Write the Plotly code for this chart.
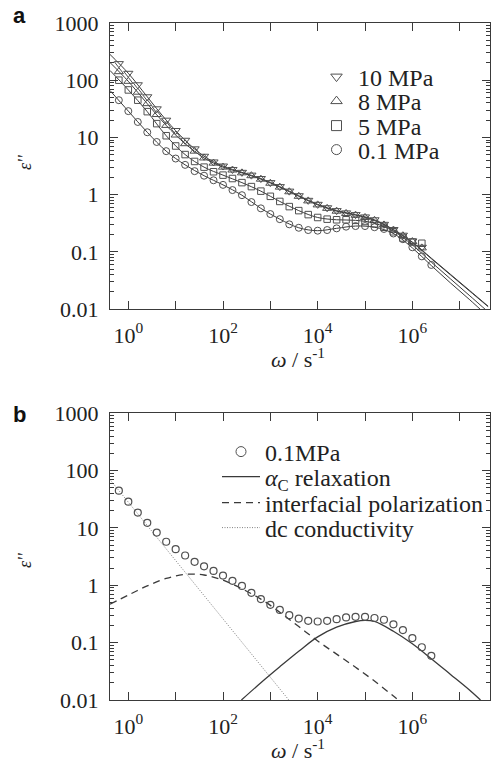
import plotly.graph_objects as go

# ---------------- data ----------------
# measured angular frequencies (s^-1)
omega = [0.631, 1, 1.585, 2.512, 3.981, 6.31, 10, 15.85, 25.12, 39.81, 63.1, 100,
         158.5, 251.2, 398.1, 631, 1000, 1585, 2512, 3981, 6310, 1e4, 15850, 25120,
         39810, 63100, 1e5, 158500, 251200, 398100, 631000, 1e6, 1585000, 2512000]

eps_10MPa = [195, 132, 83.2, 51.3, 31.6, 20.0, 13.2, 8.91, 6.31, 4.68, 3.72, 3.16,
             2.75, 2.45, 2.19, 1.91, 1.62, 1.38, 1.15, 0.955, 0.794, 0.676, 0.589,
             0.525, 0.479, 0.447, 0.407, 0.363, 0.302, 0.245, 0.195, 0.155, 0.120]
eps_8MPa = [141, 95.5, 61.7, 38.9, 25.1, 16.2, 11.0, 7.76, 5.75, 4.37, 3.55, 3.02,
            2.69, 2.40, 2.14, 1.86, 1.58, 1.35, 1.12, 0.933, 0.776, 0.661, 0.575,
            0.513, 0.468, 0.437, 0.398, 0.355, 0.295, 0.240, 0.191, 0.151, 0.117]
eps_5MPa = [100, 67.6, 44.7, 28.2, 17.4, 10.7, 7.08, 5.01, 3.80, 3.02, 2.51, 2.19,
            1.91, 1.62, 1.38, 1.15, 0.933, 0.759, 0.617, 0.525, 0.447, 0.398, 0.372,
            0.363, 0.363, 0.355, 0.339, 0.309, 0.269, 0.224, 0.174, 0.148, 0.141]
eps_01MPa = [44.7, 28.8, 18.6, 12.3, 8.32, 5.75, 4.27, 3.31, 2.57, 2.14, 1.78, 1.48,
             1.20, 0.977, 0.741, 0.575, 0.457, 0.372, 0.302, 0.263, 0.240, 0.234,
             0.240, 0.257, 0.275, 0.282, 0.282, 0.269, 0.251, 0.209, 0.166, 0.120,
             0.0832, 0.0589]

# fitted curves (panel a)
omega_fit = [0.41, 1, 2.51, 6.31, 15.85, 39.8, 100, 251, 631, 1585, 3981, 1e4, 2.51e4,
             6.31e4, 1.585e5, 3.98e5, 1e6, 2.51e6, 6.31e6, 1.585e7, 3.98e7]
fit_10MPa = [282, 132, 51.3, 20.0, 8.91, 4.68, 3.16, 2.45, 1.91, 1.38, 0.955, 0.676,
             0.525, 0.447, 0.363, 0.245, 0.148, 0.0776, 0.0407, 0.0214, 0.0112]
fit_8MPa = [204, 95.5, 38.9, 16.2, 7.76, 4.37, 3.02, 2.40, 1.86, 1.35, 0.933, 0.661,
            0.513, 0.437, 0.355, 0.240, 0.145, 0.0759, 0.0398, 0.0209, 0.0110]
fit_5MPa = [148, 67.6, 28.2, 10.7, 5.01, 3.02, 2.19, 1.62, 1.15, 0.759, 0.525, 0.398,
            0.363, 0.355, 0.316, 0.229, 0.132, 0.0661, 0.0339, 0.0174, 0.00891]
fit_01MPa = [66.1, 28.8, 12.3, 5.75, 3.31, 2.14, 1.48, 0.977, 0.575, 0.372, 0.263,
             0.234, 0.257, 0.282, 0.269, 0.209, 0.117, 0.0575, 0.0288, 0.0148, 0.00741]

# components (panel b)
omega_dc = [0.41, 1, 10, 100, 1000, 2455]
eps_dc = [69.8, 28.2, 2.70, 0.259, 0.0249, 0.01]
omega_ip = [0.41, 1, 2.51, 6.31, 15.85, 39.8, 100, 251, 631, 1585, 3981, 1e4, 2.51e4,
            6.31e4, 1.585e5, 3.98e5, 5.0e5]
eps_ip = [0.468, 0.676, 0.977, 1.318, 1.549, 1.514, 1.230, 0.871, 0.575, 0.339, 0.191,
          0.107, 0.0631, 0.0372, 0.0214, 0.0117, 0.010]
omega_ac = [245, 631, 1585, 3981, 1e4, 2.51e4, 6.31e4, 1e5, 1.585e5, 3.98e5, 1e6,
            2.51e6, 6.31e6, 1.585e7, 2.75e7]
eps_ac = [0.01, 0.0200, 0.0380, 0.0708, 0.126, 0.186, 0.234, 0.245, 0.234, 0.158,
          0.0955, 0.0525, 0.0282, 0.0151, 0.010]

x_tickvals = [1, 100, 1e4, 1e6]
x_ticktext = ['10<sup>0</sup>', '10<sup>2</sup>', '10<sup>4</sup>', '10<sup>6</sup>']
x_unlabeled_ticks = [10, 1e3, 1e5, 1e7]
y_tickvals = [0.01, 0.1, 1, 10, 100, 1000]
y_ticktext = ['0.01', '0.1', '1', '10', '100', '1000']

# ---------------- figure ----------------
W, H = 492, 761
ML, MR, MT, MB = 110, 2, 23, 61
PW, PH = W - ML - MR, H - MT - MB
DARK = '#3a3a3a'
MK = '#505050'
SERIF = 'Liberation Serif'


def px2paper(xp, yp):
    return (xp - ML) / PW, (H - MB - yp) / PH


fig = go.Figure()

series_a = [
    ('10 MPa', 'triangle-down-open', eps_10MPa, fit_10MPa, 8),
    ('8 MPa', 'triangle-up-open', eps_8MPa, fit_8MPa, 8),
    ('5 MPa', 'square-open', eps_5MPa, fit_5MPa, 6.5),
    ('0.1 MPa', 'circle-open', eps_01MPa, fit_01MPa, 7),
]
leg_rows_a = [77, 101.5, 126, 150]
for i, (name, sym, eps, fit, ms) in enumerate(series_a):
    fig.add_trace(go.Scatter(x=omega_fit, y=fit, mode='lines',
                             line=dict(color=DARK, width=1, shape='spline'),
                             showlegend=False, xaxis='x', yaxis='y', hoverinfo='skip'))
    fig.add_trace(go.Scatter(x=omega[:len(eps)], y=eps, mode='markers',
                             marker=dict(symbol=sym, size=ms, color=MK,
                                         line=dict(width=1, color=MK)),
                             showlegend=False, xaxis='x', yaxis='y'))
    lg = 'legend' if i == 0 else f'legend{i + 1}'
    fig.add_trace(go.Scatter(x=[None], y=[None], mode='markers', name=name,
                             marker=dict(symbol=sym, size=10, color=MK,
                                         line=dict(width=1, color=MK)),
                             showlegend=True, legend=lg, xaxis='x', yaxis='y'))

# panel b
fig.add_trace(go.Scatter(x=omega_dc, y=eps_dc, mode='lines',
                         line=dict(color='#808080', width=1, dash='1px,1.5px'),
                         showlegend=False, xaxis='x2', yaxis='y2'))
fig.add_trace(go.Scatter(x=omega_ip, y=eps_ip, mode='lines',
                         line=dict(color=DARK, width=1.3, dash='7px,5px', shape='spline'),
                         showlegend=False, xaxis='x2', yaxis='y2'))
fig.add_trace(go.Scatter(x=omega_ac, y=eps_ac, mode='lines',
                         line=dict(color=DARK, width=1.3, shape='spline'),
                         showlegend=False, xaxis='x2', yaxis='y2'))
fig.add_trace(go.Scatter(x=omega, y=eps_01MPa, mode='markers',
                         marker=dict(symbol='circle-open', size=7, color=MK,
                                     line=dict(width=1.2, color=MK)),
                         showlegend=False, xaxis='x2', yaxis='y2'))

legend_b = [
    ('0.1MPa', dict(mode='markers', marker=dict(symbol='circle-open', size=10, color=MK,
                                                line=dict(width=1, color=MK)))),
    ('<i>α</i><sub>C</sub> relaxation', dict(mode='lines', line=dict(color=DARK, width=1.3))),
    ('interfacial polarization', dict(mode='lines', line=dict(color=DARK, width=1.3,
                                                              dash='7px,5px'))),
    ('dc conductivity', dict(mode='lines', line=dict(color='#808080', width=1,
                                                     dash='1px,1.5px'))),
]
leg_rows_b = [452, 477, 503, 528]
for j, (name, kw) in enumerate(legend_b):
    fig.add_trace(go.Scatter(x=[None], y=[None], name=name, showlegend=True,
                             legend=f'legend{j + 5}', xaxis='x2', yaxis='y2', **kw))

legends = {}
for i, yy in enumerate(leg_rows_a):
    key = 'legend' if i == 0 else f'legend{i + 1}'
    lx, ly = px2paper(315, yy)
    legends[key] = dict(x=lx, y=ly, xref='paper', yref='paper',
                        xanchor='left', yanchor='middle', itemwidth=33,
                        font=dict(family=SERIF, size=24, color='#222'),
                        bgcolor='rgba(0,0,0,0)', borderwidth=0)
for j, yy in enumerate(leg_rows_b):
    lx, ly = px2paper(217, yy)
    legends[f'legend{j + 5}'] = dict(x=lx, y=ly, xref='paper', yref='paper',
                                     xanchor='left', yanchor='middle', itemwidth=38,
                                     font=dict(family=SERIF, size=24, color='#222'),
                                     bgcolor='rgba(0,0,0,0)', borderwidth=0)

minor_vals = [k * 10.0 ** e for e in range(-2, 3) for k in range(2, 10)]

xcommon = dict(type='log', range=[-0.387, 7.64], showline=True, linecolor=DARK,
               linewidth=1.2, mirror='ticks', ticks='inside', ticklen=8, tickwidth=1,
               tickcolor=DARK, showgrid=False, zeroline=False,
               tickmode='array', tickvals=x_tickvals, ticktext=x_ticktext,
               tickfont=dict(family=SERIF, size=22, color='#222'),
               ticklabelstandoff=6,
               minor=dict(ticks='inside', ticklen=8, tickwidth=1, tickcolor=DARK,
                          tickmode='array', tickvals=x_unlabeled_ticks, showgrid=False))
ycommon = dict(type='log', range=[-2, 3], showline=True, linecolor=DARK,
               linewidth=1.2, mirror='ticks', ticks='inside', ticklen=8, tickwidth=1,
               tickcolor=DARK, showgrid=False, zeroline=False,
               tickmode='array', tickvals=y_tickvals, ticktext=y_ticktext,
               tickfont=dict(family=SERIF, size=22, color='#222'),
               ticklabelstandoff=6,
               minor=dict(ticks='inside', ticklen=4, tickwidth=1, tickcolor=DARK,
                          tickmode='array', tickvals=minor_vals, showgrid=False))

fig.update_layout(
    width=W, height=H,
    margin=dict(l=ML, r=MR, t=MT, b=MB, autoexpand=False),
    paper_bgcolor='white', plot_bgcolor='white',
    xaxis=dict(domain=[0, 1], anchor='y', **xcommon),
    yaxis=dict(domain=[(700 - 309) / PH, 1], anchor='x', **ycommon),
    xaxis2=dict(domain=[0, 1], anchor='y2', **xcommon),
    yaxis2=dict(domain=[0, (700 - 413.3) / PH], anchor='x2', **ycommon),
    **legends,
)

annots = []
for lab, (xp, yp) in [('<b>a</b>', (19, 16)), ('<b>b</b>', (19, 414))]:
    xx, yy = px2paper(xp, yp)
    annots.append(dict(text=lab, x=xx, y=yy, xref='paper', yref='paper',
                       showarrow=False, xanchor='center', yanchor='middle',
                       font=dict(family='Liberation Sans', size=22, color='#111')))
for yp in [358, 358 + 391]:
    xx, yy = px2paper(298, yp)
    annots.append(dict(text='<i>ω</i> / s<sup>-1</sup>', x=xx, y=yy, xref='paper',
                       yref='paper', showarrow=False, xanchor='center', yanchor='middle',
                       font=dict(family=SERIF, size=22, color='#222')))
for yp in [162, 560]:
    xx, yy = px2paper(25, yp)
    annots.append(dict(text="<i>ε''</i>", x=xx, y=yy, xref='paper', yref='paper',
                       showarrow=False, xanchor='center', yanchor='middle',
                       textangle=-90,
                       font=dict(family=SERIF, size=18, color='#222')))
fig.update_layout(annotations=annots)

fig.write_html('out.html', config={'displayModeBar': False},
               post_script="document.body.style.margin='0';document.body.style.padding='0';")
